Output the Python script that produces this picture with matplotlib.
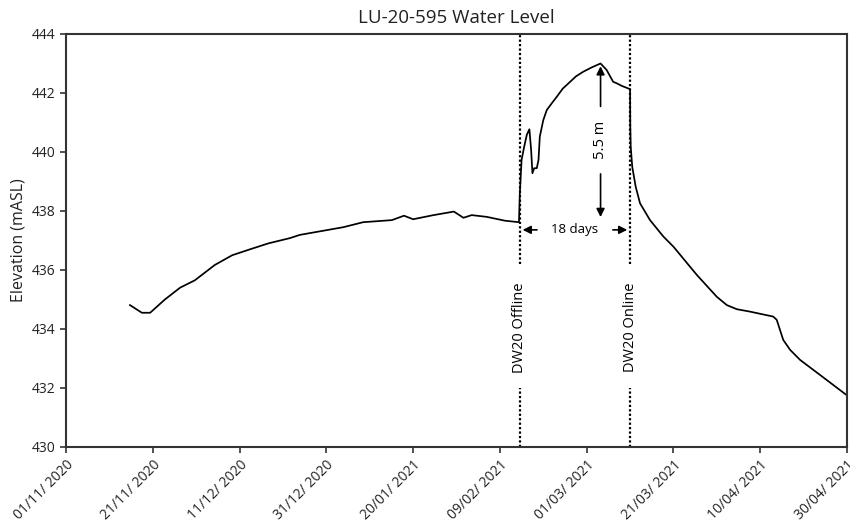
import numpy as np
import pandas as pd
import matplotlib
matplotlib.use("Agg")
import matplotlib.pyplot as plt
import matplotlib.dates as mdates

plt.rcParams['font.family'] = ['Open Sans', 'DejaVu Sans']

start = pd.Timestamp('2020-11-01')

# days since 01/11/2020 and water level (mASL)
days = [14.75, 17.5, 19.4, 22.8, 26.3, 29.7, 34.3, 38.3, 42.4, 46.6, 51.6, 53.9,
        63.9, 68.5, 75.1, 77.9, 80.0, 84.7, 89.4, 91.6, 93.5, 97.0, 101.2, 104.4,
        104.6, 105.0, 105.6, 106.2, 106.8, 107.2, 107.5, 107.9, 108.5, 108.9, 109.2,
        110.0, 110.8, 111.8, 113.1, 114.5, 116.2, 117.5, 119.2, 121.2, 123.2,
        124.6, 126.1, 126.9, 128.1, 130.0,
        130.05, 130.15, 130.5, 131.3, 132.3, 134.6, 137.7, 140.0, 145.4, 150.0,
        152.3, 154.6, 157.6, 163.0, 163.8, 165.3, 166.9, 169.2, 173.8, 179.9]
level = [434.81, 434.55, 434.55, 435.0, 435.4, 435.65, 436.17, 436.5, 436.7, 436.9, 437.08, 437.19,
         437.45, 437.62, 437.69, 437.84, 437.72, 437.86, 437.98, 437.77, 437.86, 437.8, 437.67, 437.62,
         438.6, 439.73, 440.18, 440.58, 440.77, 440.07, 439.28, 439.45, 439.45, 439.73, 440.52,
         441.08, 441.42, 441.62, 441.87, 442.15, 442.38, 442.56, 442.72, 442.87, 443.0,
         442.78, 442.38, 442.33, 442.24, 442.13,
         440.9, 440.18, 439.5, 438.82, 438.26, 437.69, 437.13, 436.79, 435.83, 435.09,
         434.81, 434.67, 434.59, 434.42, 434.31, 433.63, 433.29, 432.95, 432.44, 431.76]

offline_day = 104.6
online_day = 130.0
peak_day = 123.2
peak_level = 443.0
arrow_low = 437.7
span_level = 437.36

tick_days = np.arange(0, 181, 20)

dates = [start + pd.Timedelta(days=d) for d in days]
d = lambda x: start + pd.Timedelta(days=x)

fig = plt.figure(figsize=(8.5, 5.22), dpi=100)
ax = fig.add_axes([0.0776, 0.1437, 0.9189, 0.7912])

ax.plot(dates, level, color='black', lw=1.25)

# offline / online markers
for day, label in [(offline_day, 'DW20 Offline'), (online_day, 'DW20 Online')]:
    ax.vlines(d(day), 436.2, 444, colors='black', linestyles=(0, (1, 1)), lw=1.6)
    ax.vlines(d(day), 430, 432.0, colors='black', linestyles=(0, (1, 1)), lw=1.6)
    ax.text(d(day), 434.05, label, rotation=90, ha='center', va='center', fontsize=10.5)

# 5.5 m arrow
ax.annotate('', xy=(d(peak_day), peak_level), xytext=(d(peak_day), 441.45),
            arrowprops=dict(arrowstyle='-|>', color='black', lw=1.2, mutation_scale=12))
ax.annotate('', xy=(d(peak_day), arrow_low), xytext=(d(peak_day), 439.35),
            arrowprops=dict(arrowstyle='-|>', color='black', lw=1.2, mutation_scale=12))
ax.text(d(peak_day), 440.4, '5.5 m', rotation=90, ha='center', va='center', fontsize=10.5)

# 18 days arrow
mid = (offline_day + online_day) / 2
ax.annotate('', xy=(d(offline_day), span_level), xytext=(d(109.2), span_level),
            arrowprops=dict(arrowstyle='-|>', color='black', lw=1.2, mutation_scale=12))
ax.annotate('', xy=(d(online_day), span_level), xytext=(d(125.4), span_level),
            arrowprops=dict(arrowstyle='-|>', color='black', lw=1.2, mutation_scale=12))
ax.text(d(mid), span_level, '18 days', ha='center', va='center', fontsize=9.5)

ax.set_xlim(d(0), d(180))
ax.set_ylim(430, 444)
ax.set_yticks(np.arange(430, 445, 2))
ax.set_xticks([d(t) for t in tick_days])
ax.xaxis.set_major_formatter(mdates.DateFormatter('%d/%m/ %Y'))

ax.tick_params(labelsize=10, length=4, width=1.2, color='#333333', labelcolor='#222222')
for lab in ax.get_xticklabels():
    lab.set_rotation(45)
    lab.set_ha('right')
    lab.set_rotation_mode('anchor')
for s in ax.spines.values():
    s.set_linewidth(1.5)
    s.set_color('#333333')

ax.set_ylabel('Elevation (mASL)', fontsize=11.5, color='#222222')
ax.set_title('LU-20-595 Water Level', fontsize=13.5, color='#222222', pad=8)

fig.savefig('out.png', dpi=100)
